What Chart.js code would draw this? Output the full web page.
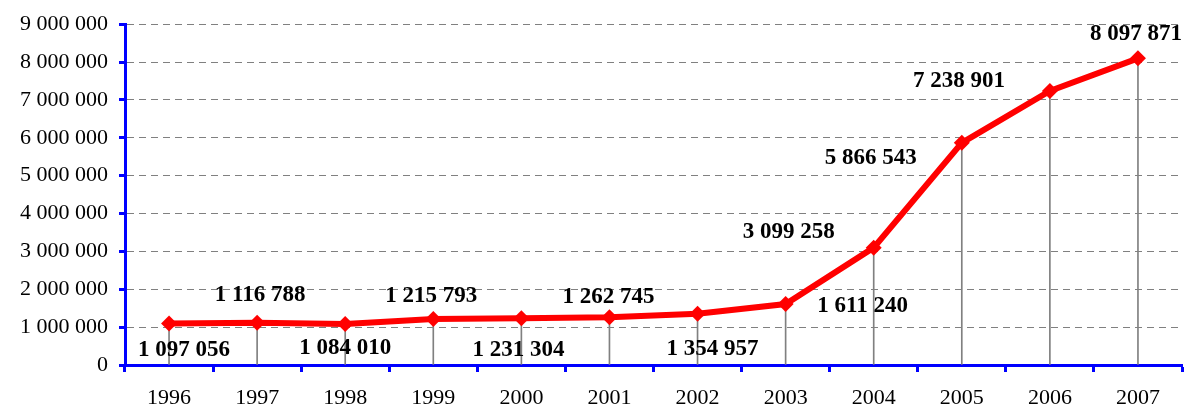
<!DOCTYPE html>
<html>
<head>
<meta charset="utf-8">
<script src="https://cdn.jsdelivr.net/npm/chart.js@4.4.1/dist/chart.umd.min.js"></script>
<style>
    html, body { margin: 0; padding: 0; background: #ffffff; }
    #wrap { width: 1190px; height: 406px; position: relative; }
</style>
</head>
<body>
<div id="wrap"><canvas id="growthChart"></canvas></div>
<script>
const years = ['1996', '1997', '1998', '1999', '2000', '2001', '2002', '2003', '2004', '2005', '2006', '2007'];
const totals = [1097056, 1116788, 1084010, 1215793, 1231304, 1262745, 1354957, 1611240, 3099258, 5866543, 7238901, 8097871];
const yMin = 0;
const yMax = 9000000;
const yStep = 1000000;

// where each value label sits relative to its point (px), as in the original
const labelShift = [
    [15, 27], [3, -28], [0, 24], [-2, -23], [-3, 32], [-1, -20],
    [15, 35], [77, 2], [-85, -16], [-91, 15], [-91, -10], [-2, -24],
];

const serif = '"Liberation Serif", "Times New Roman", serif';
const axisBlue = '#0000ff';

const spaced = (v) => String(v).replace(/\B(?=(\d{3})+(?!\d))/g, ' ');

const valueLabels = {
    id: 'valueLabels',
    afterDatasetsDraw(chart) {
        const { ctx } = chart;
        const meta = chart.getDatasetMeta(1);
        ctx.save();
        ctx.font = `bold 23px ${serif}`;
        ctx.fillStyle = '#000000';
        ctx.textAlign = 'center';
        ctx.textBaseline = 'middle';
        meta.data.forEach((pt, i) => {
            const [dx, dy] = labelShift[i];
            ctx.fillText(spaced(totals[i]), pt.x + dx, pt.y + dy);
        });
        ctx.restore();
    },
};

new Chart(document.getElementById('growthChart'), {
    data: {
        labels: years,
        datasets: [
            {
                type: 'bar',
                data: totals,
                backgroundColor: '#808080',
                barThickness: 1,
                order: 2,
            },
            {
                type: 'line',
                data: totals,
                borderColor: '#ff0000',
                backgroundColor: '#ff0000',
                borderWidth: 6,
                pointStyle: 'rectRot',
                pointRadius: 8,
                pointBorderWidth: 0,
                tension: 0,
                order: 1,
            },
        ],
    },
    options: {
        responsive: true,
        maintainAspectRatio: false,
        animation: false,
        layout: { padding: { top: 24, right: 3, left: 0, bottom: 0 } },
        plugins: {
            legend: { display: false },
            tooltip: { enabled: false },
        },
        scales: {
            x: {
                offset: true,
                grid: {
                    offset: true,
                    drawOnChartArea: false,
                    tickColor: axisBlue,
                    tickWidth: 3,
                    tickLength: 7,
                },
                border: { color: axisBlue, width: 3 },
                ticks: {
                    color: '#000000',
                    font: { family: serif, size: 22 },
                    padding: 13,
                    maxRotation: 0,
                },
                afterFit(scale) {
                    scale.height = 41;
                    scale.paddingLeft = 0;
                    scale.paddingRight = 0;
                },
            },
            y: {
                min: yMin,
                max: yMax,
                grid: {
                    color: '#808080',
                    lineWidth: 1,
                    tickColor: axisBlue,
                    tickWidth: 3,
                    tickLength: 6,
                },
                border: { color: axisBlue, width: 3, dash: [7, 5] },
                ticks: {
                    stepSize: yStep,
                    color: '#000000',
                    font: { family: serif, size: 22 },
                    padding: 11,
                    callback: (v) => spaced(v),
                },
                afterFit(scale) { scale.width = 125; },
            },
        },
    },
    plugins: [valueLabels],
});
</script>
</body>
</html>
